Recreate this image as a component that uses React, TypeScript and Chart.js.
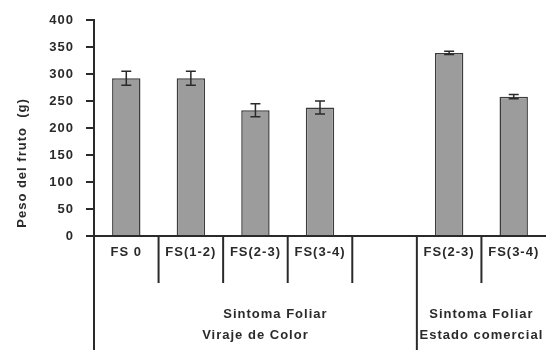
import React, { useEffect, useRef } from "react";
import { Chart, registerables } from "chart.js";

Chart.register(...registerables);

// Fruit weight by leaf symptom class
const categories = ["FS 0", "FS(1-2)", "FS(2-3)", "FS(3-4)", "", "FS(2-3)", "FS(3-4)"];
const pesoFruto = [292, 292, 233, 238, null, 339, 258];
const errorFruto = [13, 13, 12, 12, 0, 3, 4];
const yTicks = [0, 50, 100, 150, 200, 250, 300, 350, 400];
const groupLabels = [
  ["Sintoma Foliar", "Viraje de Color"],
  ["Sintoma Foliar", "Estado comercial"],
];
// category index ranges covered by each group
const groupSpans = [
  [0, 4],
  [5, 6],
];
const yTitle = "Peso del fruto  (g)";

const FONT = "bold 13px 'Liberation Sans', Arial, sans-serif";
const INK = "#2a2a2a";

const spacing = {
  id: "spacing",
  beforeUpdate(chart: any) {
    chart.ctx.letterSpacing = "1px";
  },
  beforeDraw(chart: any) {
    const ctx = chart.ctx;
    ctx.letterSpacing = "1px";
    ctx.save();
    ctx.fillStyle = "#ffffff";
    ctx.fillRect(0, 0, chart.width, chart.height);
    ctx.restore();
  },
};

const errorBars = {
  id: "errorBars",
  afterDatasetsDraw(chart: any) {
    const ctx = chart.ctx;
    const meta = chart.getDatasetMeta(0);
    const y = chart.scales.y;
    ctx.save();
    ctx.strokeStyle = INK;
    ctx.lineWidth = 1.5;
    meta.data.forEach((bar: any, i: number) => {
      const v = pesoFruto[i];
      if (v == null) return;
      const e = errorFruto[i];
      const top = y.getPixelForValue(v + e);
      const bot = y.getPixelForValue(v - e);
      const x = bar.x;
      ctx.beginPath();
      ctx.moveTo(x, top);
      ctx.lineTo(x, bot);
      ctx.moveTo(x - 5, top);
      ctx.lineTo(x + 5, top);
      ctx.moveTo(x - 5, bot);
      ctx.lineTo(x + 5, bot);
      ctx.stroke();
    });
    ctx.restore();
  },
};

const table = {
  id: "table",
  afterDraw(chart: any) {
    const ctx = chart.ctx;
    const area = chart.chartArea;
    const xs = chart.scales.x;
    const n = categories.length;
    const step = (area.right - area.left) / n;
    const base = area.bottom;
    ctx.save();
    ctx.strokeStyle = INK;
    ctx.lineWidth = 2;
    // horizontal axis
    ctx.beginPath();
    ctx.moveTo(area.left, base);
    ctx.lineTo(chart.width, base);
    ctx.stroke();
    // group boundary lines run to the bottom
    ctx.beginPath();
    groupSpans.forEach(([a]) => {
      const gx = area.left + a * step;
      ctx.moveTo(gx, base);
      ctx.lineTo(gx, chart.height);
    });
    ctx.stroke();
    // category dividers
    ctx.beginPath();
    for (let i = 1; i < n; i++) {
      if (groupSpans.some(([a]) => a === i)) continue;
      const dx = area.left + i * step;
      ctx.moveTo(dx, base);
      ctx.lineTo(dx, base + 47);
    }
    ctx.stroke();
    // category labels
    ctx.fillStyle = INK;
    ctx.font = FONT;
    ctx.textAlign = "center";
    ctx.textBaseline = "middle";
    categories.forEach((c, i) => {
      ctx.fillText(c, xs.getPixelForValue(i), base + 16);
    });
    // group labels
    groupSpans.forEach(([a, b], g) => {
      const cx = area.left + ((a + b + 1) / 2) * step;
      const shift = g === 0 ? 20 : 0;
      ctx.fillText(groupLabels[g][0], cx + shift, base + 78);
      ctx.fillText(groupLabels[g][1], cx, base + 99);
    });
    // y title
    ctx.translate(22, 163);
    ctx.rotate(-Math.PI / 2);
    ctx.fillText(yTitle, 0, 0);
    ctx.restore();
  },
};

export default function App() {
  const ref = useRef<HTMLCanvasElement | null>(null);
  useEffect(() => {
    if (!ref.current) return;
    const chart = new Chart(ref.current, {
      type: "bar",
      data: {
        labels: categories,
        datasets: [
          {
            data: pesoFruto as any,
            backgroundColor: "#9c9c9c",
            borderColor: "#3c3c3c",
            borderWidth: 1.5,
            barPercentage: 0.44,
            categoryPercentage: 1,
          },
        ],
      },
      options: {
        animation: false,
        responsive: true,
        maintainAspectRatio: false,
        layout: { padding: { left: 0, top: 20, right: 0, bottom: 114 } },
        plugins: { legend: { display: false }, tooltip: { enabled: false } },
        scales: {
          x: { display: false },
          y: {
            min: 0,
            max: 400,
            afterFit(s: any) {
              s.width = 94;
            },
            afterBuildTicks(s: any) {
              s.ticks = yTicks.map((v) => ({ value: v }));
            },
            border: { display: true, color: INK, width: 2 },
            grid: {
              drawOnChartArea: false,
              drawTicks: true,
              tickLength: 8,
              color: INK,
              lineWidth: 2,
            },
            ticks: {
              padding: 12,
              color: INK,
              font: { family: "'Liberation Sans', Arial, sans-serif", size: 13, weight: "bold" },
            },
          },
        },
      },
      plugins: [spacing, errorBars, table],
    });
    return () => chart.destroy();
  }, []);
  return (
    <div style={{ position: "absolute", left: 0, top: 0, width: 546, height: 350, background: "#fff" }}>
      <canvas ref={ref} />
    </div>
  );
}
